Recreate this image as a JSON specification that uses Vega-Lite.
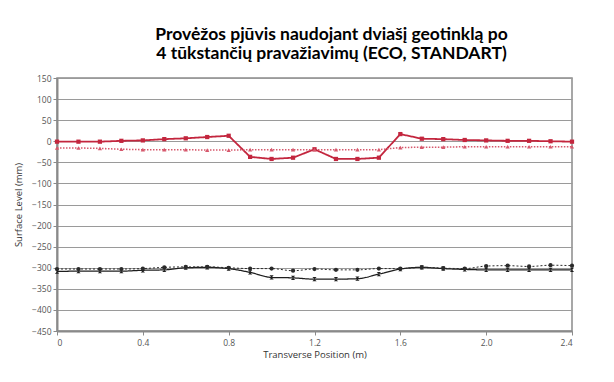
{
  "$schema": "https://vega.github.io/schema/vega-lite/v6.json",
  "width": 515,
  "height": 253,
  "autosize": {"type": "none"},
  "padding": {"left": 57, "top": 78, "right": 42, "bottom": 51},
  "background": "white",
  "title": {
    "text": ["Provėžos pjūvis naudojant dviašį geotinklą po", "4 tūkstančių pravažiavimų (ECO, STANDART)"],
    "font": "Lato",
    "fontSize": 17.5,
    "fontWeight": "bold",
    "color": "#000000",
    "lineHeight": 19,
    "offset": 12,
    "dx": 17
  },
  "config": {
    "view": {"stroke": "#8a8a8a", "strokeWidth": 1.5},
    "axis": {
      "labelFont": "Open Sans",
      "labelFontSize": 8.5,
      "labelColor": "#555555",
      "titleFont": "Open Sans",
      "titleFontSize": 9.5,
      "titleFontWeight": "normal",
      "titleColor": "#333333",
      "domainColor": "#8a8a8a",
      "domainWidth": 2,
      "tickColor": "#8a8a8a",
      "tickSize": 4
    }
  },
  "data": {
    "values": [
      {"x": 0.0, "y": -1, "s": "A"}, {"x": 0.1, "y": -1, "s": "A"}, {"x": 0.2, "y": -1, "s": "A"}, {"x": 0.3, "y": 1, "s": "A"}, {"x": 0.4, "y": 2, "s": "A"}, {"x": 0.5, "y": 5, "s": "A"}, {"x": 0.6, "y": 7, "s": "A"}, {"x": 0.7, "y": 10, "s": "A"}, {"x": 0.8, "y": 13, "s": "A"}, {"x": 0.9, "y": -37, "s": "A"}, {"x": 1.0, "y": -42, "s": "A"}, {"x": 1.1, "y": -39, "s": "A"}, {"x": 1.2, "y": -19, "s": "A"}, {"x": 1.3, "y": -42, "s": "A"}, {"x": 1.4, "y": -42, "s": "A"}, {"x": 1.5, "y": -39, "s": "A"}, {"x": 1.6, "y": 17, "s": "A"}, {"x": 1.7, "y": 6, "s": "A"}, {"x": 1.8, "y": 5, "s": "A"}, {"x": 1.9, "y": 3, "s": "A"}, {"x": 2.0, "y": 2, "s": "A"}, {"x": 2.1, "y": 1, "s": "A"}, {"x": 2.2, "y": 1, "s": "A"}, {"x": 2.3, "y": 0, "s": "A"}, {"x": 2.4, "y": -1, "s": "A"},
      {"x": 0.0, "y": -16, "s": "B"}, {"x": 0.1, "y": -16, "s": "B"}, {"x": 0.2, "y": -17, "s": "B"}, {"x": 0.3, "y": -19, "s": "B"}, {"x": 0.4, "y": -20, "s": "B"}, {"x": 0.5, "y": -20, "s": "B"}, {"x": 0.6, "y": -20, "s": "B"}, {"x": 0.7, "y": -21, "s": "B"}, {"x": 0.8, "y": -21, "s": "B"}, {"x": 0.9, "y": -20, "s": "B"}, {"x": 1.0, "y": -20, "s": "B"}, {"x": 1.1, "y": -20, "s": "B"}, {"x": 1.2, "y": -20, "s": "B"}, {"x": 1.3, "y": -20, "s": "B"}, {"x": 1.4, "y": -20, "s": "B"}, {"x": 1.5, "y": -20, "s": "B"}, {"x": 1.6, "y": -15, "s": "B"}, {"x": 1.7, "y": -14, "s": "B"}, {"x": 1.8, "y": -14, "s": "B"}, {"x": 1.9, "y": -13, "s": "B"}, {"x": 2.0, "y": -13, "s": "B"}, {"x": 2.1, "y": -13, "s": "B"}, {"x": 2.2, "y": -13, "s": "B"}, {"x": 2.3, "y": -13, "s": "B"}, {"x": 2.4, "y": -13, "s": "B"},
      {"x": 0.0, "y": -309, "s": "C"}, {"x": 0.1, "y": -308, "s": "C"}, {"x": 0.2, "y": -308, "s": "C"}, {"x": 0.3, "y": -308, "s": "C"}, {"x": 0.4, "y": -306, "s": "C"}, {"x": 0.5, "y": -305, "s": "C"}, {"x": 0.6, "y": -300, "s": "C"}, {"x": 0.7, "y": -299, "s": "C"}, {"x": 0.8, "y": -302, "s": "C"}, {"x": 0.9, "y": -311, "s": "C"}, {"x": 1.0, "y": -323, "s": "C"}, {"x": 1.1, "y": -324, "s": "C"}, {"x": 1.2, "y": -327, "s": "C"}, {"x": 1.3, "y": -327, "s": "C"}, {"x": 1.4, "y": -326, "s": "C"}, {"x": 1.5, "y": -315, "s": "C"}, {"x": 1.6, "y": -303, "s": "C"}, {"x": 1.7, "y": -299, "s": "C"}, {"x": 1.8, "y": -302, "s": "C"}, {"x": 1.9, "y": -304, "s": "C"}, {"x": 2.0, "y": -305, "s": "C"}, {"x": 2.1, "y": -305, "s": "C"}, {"x": 2.2, "y": -305, "s": "C"}, {"x": 2.3, "y": -305, "s": "C"}, {"x": 2.4, "y": -305, "s": "C"},
      {"x": 0.0, "y": -303, "s": "D"}, {"x": 0.1, "y": -303, "s": "D"}, {"x": 0.2, "y": -303, "s": "D"}, {"x": 0.3, "y": -303, "s": "D"}, {"x": 0.4, "y": -302, "s": "D"}, {"x": 0.5, "y": -299, "s": "D"}, {"x": 0.6, "y": -298, "s": "D"}, {"x": 0.7, "y": -298, "s": "D"}, {"x": 0.8, "y": -300, "s": "D"}, {"x": 0.9, "y": -302, "s": "D"}, {"x": 1.0, "y": -302, "s": "D"}, {"x": 1.1, "y": -307, "s": "D"}, {"x": 1.2, "y": -303, "s": "D"}, {"x": 1.3, "y": -305, "s": "D"}, {"x": 1.4, "y": -305, "s": "D"}, {"x": 1.5, "y": -302, "s": "D"}, {"x": 1.6, "y": -302, "s": "D"}, {"x": 1.7, "y": -299, "s": "D"}, {"x": 1.8, "y": -301, "s": "D"}, {"x": 1.9, "y": -302, "s": "D"}, {"x": 2.0, "y": -296, "s": "D"}, {"x": 2.1, "y": -295, "s": "D"}, {"x": 2.2, "y": -297, "s": "D"}, {"x": 2.3, "y": -294, "s": "D"}, {"x": 2.4, "y": -295, "s": "D"}
    ]
  },
  "encoding": {
    "x": {
      "field": "x", "type": "quantitative",
      "scale": {"domain": [0, 2.4], "nice": false, "zero": false},
      "axis": {
        "title": "Transverse Position (m)",
        "values": [0, 0.4, 0.8, 1.2, 1.6, 2.0, 2.4],
        "labelExpr": "datum.value == 0 ? '0' : format(datum.value, '.1f')",
        "grid": false,
        "labelPadding": 3,
        "titlePadding": 3
      }
    },
    "y": {
      "field": "y", "type": "quantitative",
      "scale": {"domain": [-450, 150], "nice": false, "zero": false},
      "axis": {
        "title": "Surface Level (mm)",
        "values": [-450, -400, -350, -300, -250, -200, -150, -100, -50, 0, 50, 100, 150],
        "grid": true,
        "gridColor": "#9a9a9a",
        "gridWidth": 1.2,
        "labelPadding": 2,
        "titlePadding": 8
      }
    },
    "color": {
      "field": "s", "type": "nominal",
      "scale": {"domain": ["A", "B", "C", "D"], "range": ["#c3263e", "#d6586c", "#1e1e1e", "#2a2a2a"]},
      "legend": null
    },
    "strokeDash": {
      "field": "s", "type": "nominal",
      "scale": {"domain": ["A", "B", "C", "D"], "range": [[1, 0], [1.5, 1.5], [1, 0], [2, 2]]},
      "legend": null
    },
    "strokeWidth": {
      "field": "s", "type": "nominal",
      "scale": {"domain": ["A", "B", "C", "D"], "range": [1.8, 1, 1.8, 1]},
      "legend": null
    }
  },
  "layer": [
    {
      "transform": [{"filter": "datum.s == 'A' || datum.s == 'B'"}],
      "mark": {"type": "line", "interpolate": "linear"}
    },
    {
      "transform": [{"filter": "datum.s == 'C' || datum.s == 'D'"}],
      "mark": {"type": "line", "interpolate": "monotone"}
    },
    {
      "mark": {"type": "point", "filled": true, "opacity": 1, "strokeWidth": 0},
      "encoding": {
        "shape": {
          "field": "s", "type": "nominal",
          "scale": {"domain": ["A", "B", "C", "D"], "range": ["square", "triangle-up", "M-1,-1L1,-1L-1,1L1,1Z", "circle"]},
          "legend": null
        },
        "strokeDash": {"value": [1, 0]},
        "strokeWidth": {"value": 0},
        "size": {"value": 18}
      }
    }
  ]
}
